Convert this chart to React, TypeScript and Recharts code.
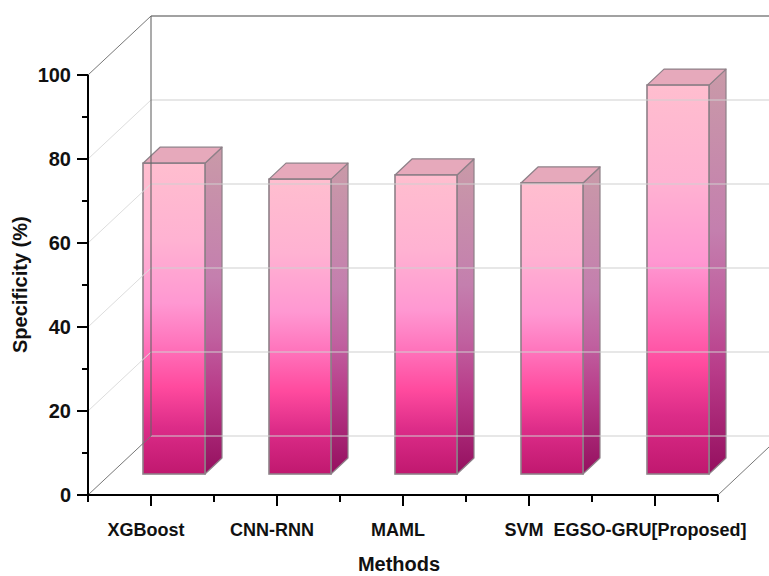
import React from 'react';
import { BarChart, Bar, XAxis, YAxis, ReferenceLine } from 'recharts';

const methods = ['XGBoost', 'CNN-RNN', 'MAML', 'SVM', 'EGSO-GRU[Proposed]'];
const specificity = [74, 70.2, 71.2, 69.3, 92.6];
const yTicks = [0, 10, 20, 30, 40, 50, 60, 70, 80, 90, 100];
const wallLines = [0, 20, 40, 60, 80, 100];

const rows = methods.map((method, i) => ({ method, value: specificity[i] }));

const FONT = '"Liberation Sans", Arial, sans-serif';
// Depth of the chart box, and where the bars sit inside it.
const WALL_DX = 63;
const WALL_DY = 59;
const BAR_DX = 23;
const BAR_DY = 21;
const SIDE_X = 17;
const SIDE_Y = 16;
const EDGE = '#8e8088';

function Bar3D(props: any) {
  const { x, y, width, height } = props;
  const l = x + BAR_DX;
  const r = l + width;
  const t = y - BAR_DY;
  const b = t + height;
  return (
    <g>
      <path
        d={`M${r} ${t}L${r + SIDE_X} ${t - SIDE_Y}V${b - SIDE_Y}L${r} ${b}Z`}
        fill="url(#sideFace)"
        stroke={EDGE}
        strokeWidth={1.2}
        strokeLinejoin="round"
      />
      <path
        d={`M${l} ${t}L${l + SIDE_X} ${t - SIDE_Y}H${r + SIDE_X}L${r} ${t}Z`}
        fill="#e6a9bb"
        stroke={EDGE}
        strokeWidth={1.2}
        strokeLinejoin="round"
      />
      <rect x={l} y={t} width={width} height={height} fill="url(#frontFace)" stroke={EDGE} strokeWidth={1.6} />
    </g>
  );
}

function WallLine(props: any) {
  const { x1, y1, x2, y2, value } = props;
  const top = value === 100;
  const floor = value === 0;
  const back = y1 - WALL_DY;
  return (
    <g fill="none">
      <line x1={x1 + WALL_DX} y1={back} x2={769} y2={back} stroke={top ? '#444444' : '#cfcfcf'} strokeWidth={1.1} />
      <line x1={x1} y1={y1} x2={x1 + WALL_DX} y2={back} stroke={top || floor ? '#777777' : '#dddddd'} strokeWidth={1} />
      {floor && <line x1={x2} y1={y2} x2={769} y2={y2 - 48} stroke="#777777" strokeWidth={1} />}
    </g>
  );
}

function BackEdge(props: any) {
  const { x1, y1, y2 } = props;
  return <line x1={x1} y1={y1 - WALL_DY} x2={x1} y2={y2 - WALL_DY} stroke="#666666" strokeWidth={1.1} />;
}

function MethodTick(props: any) {
  const { x, y, payload, index } = props;
  return (
    <g>
      <line x1={x} y1={y} x2={x} y2={y + 11} stroke="#000" strokeWidth={2} />
      <line x1={x + WALL_DX} y1={y} x2={x + WALL_DX} y2={y + 7} stroke="#000" strokeWidth={2} />
      {index === 0 && <line x1={x - WALL_DX} y1={y} x2={x - WALL_DX} y2={y + 7} stroke="#000" strokeWidth={2} />}
      <text x={x - 5} y={y + 41} textAnchor="middle" fontFamily={FONT} fontWeight={700} fontSize={18} fill="#111">
        {payload.value}
      </text>
    </g>
  );
}

function ValueTick(props: any) {
  const { x, y, payload } = props;
  const major = payload.value % 20 === 0;
  return (
    <g>
      <line x1={x - (major ? 11 : 6)} y1={y} x2={x} y2={y} stroke="#000" strokeWidth={2} />
      {major && (
        <text x={x - 17} y={y + 7} textAnchor="end" fontFamily={FONT} fontWeight={700} fontSize={20} fill="#111">
          {payload.value}
        </text>
      )}
    </g>
  );
}

export default function App() {
  return (
    <div style={{ position: 'absolute', left: 0, top: 0 }}>
      <BarChart
        width={769}
        height={576}
        data={rows}
        margin={{ top: 75, right: 51, bottom: 21, left: 28 }}
        barSize={62}
      >
        <defs>
          <linearGradient id="frontFace" x1="0" y1="0" x2="0" y2="1">
            <stop offset="0" stopColor="#ffbecf" />
            <stop offset="0.25" stopColor="#ffb2d2" />
            <stop offset="0.45" stopColor="#ff98d2" />
            <stop offset="0.58" stopColor="#ff74bc" />
            <stop offset="0.72" stopColor="#ff4a9e" />
            <stop offset="0.85" stopColor="#dc2c88" />
            <stop offset="1" stopColor="#c0186f" />
          </linearGradient>
          <linearGradient id="sideFace" x1="0" y1="0" x2="0" y2="1">
            <stop offset="0" stopColor="#c99aa8" />
            <stop offset="0.4" stopColor="#c47fae" />
            <stop offset="0.58" stopColor="#c0609f" />
            <stop offset="0.75" stopColor="#b83a88" />
            <stop offset="1" stopColor="#950f5f" />
          </linearGradient>
        </defs>
        {wallLines.map((v) => (
          <ReferenceLine
            key={v}
            y={v}
            ifOverflow="visible"
            shape={(p: any) => <WallLine {...p} value={v} />}
          />
        ))}
        <ReferenceLine x={methods[0]} ifOverflow="visible" shape={(p: any) => <BackEdge {...p} />} />
        <XAxis
          dataKey="method"
          interval={0}
          height={60}
          tickSize={0}
          tickMargin={0}
          tickLine={false}
          axisLine={{ stroke: '#000', strokeWidth: 2 }}
          tick={(p: any) => <MethodTick {...p} />}
          label={{
            value: 'Methods',
            position: 'insideBottom',
            offset: 0,
            dx: -4,
            dy: 16,
            style: { fontFamily: FONT, fontWeight: 700, fontSize: 20, fill: '#111' },
          }}
        />
        <YAxis
          domain={[0, 100]}
          ticks={yTicks}
          interval={0}
          width={60}
          tickSize={0}
          tickMargin={0}
          tickLine={false}
          axisLine={{ stroke: '#000', strokeWidth: 2 }}
          tick={(p: any) => <ValueTick {...p} />}
          label={{
            value: 'Specificity (%)',
            angle: -90,
            position: 'insideLeft',
            offset: 0,
            dx: -8,
            dy: 68,
            style: { fontFamily: FONT, fontWeight: 700, fontSize: 20, fill: '#111' },
          }}
        />
        <Bar dataKey="value" isAnimationActive={false} shape={(p: any) => <Bar3D {...p} />} />
      </BarChart>
    </div>
  );
}
